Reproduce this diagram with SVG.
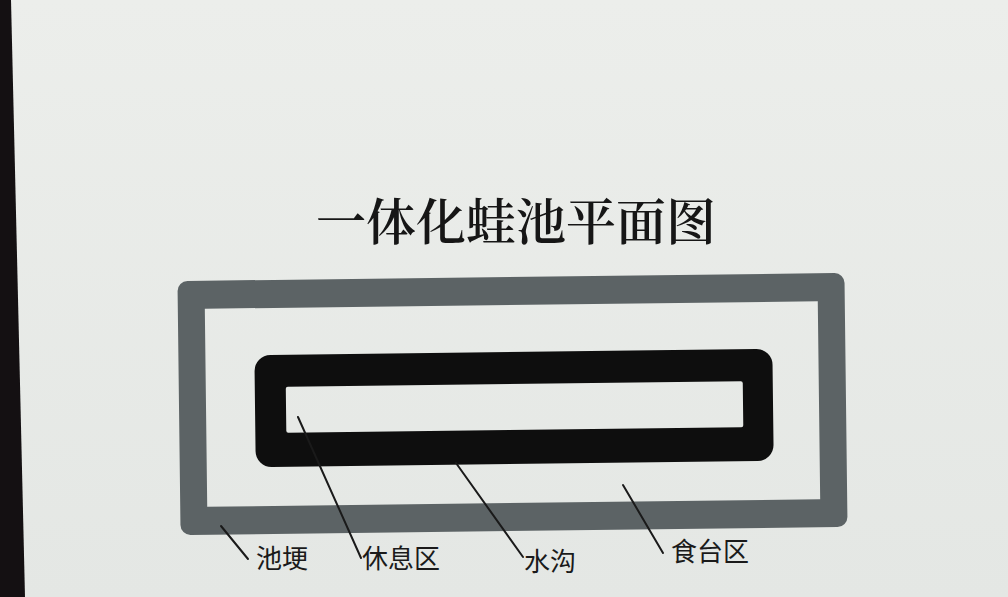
<svg xmlns="http://www.w3.org/2000/svg" width="1008" height="597" viewBox="0 0 1008 597">
  <defs>
    <linearGradient id="bg" x1="0" y1="0" x2="0" y2="1">
      <stop offset="0" stop-color="#eceeeb"/>
      <stop offset="1" stop-color="#e4e7e4"/>
    </linearGradient>
  </defs>
  <style>
    .title { font-family: "Noto Serif CJK SC", "Noto Sans CJK SC", "Noto Sans CJK JP", serif; font-size: 50px; font-weight: 600; fill: #161616; }
    .label { font-family: "Noto Sans CJK SC", "Noto Sans CJK JP", sans-serif; font-size: 26px; fill: #1a1a1a; }
    .leader { stroke: #1a1a1a; stroke-width: 2; fill: none; stroke-linecap: round; }
    .bank { fill: #5c6365; fill-rule: evenodd; }
    .ditch { fill: #0e0e0e; fill-rule: evenodd; }
  </style>
  <rect x="0" y="0" width="1008" height="597" fill="url(#bg)"/>
  <polygon points="0,0 11,0 25,597 0,597" fill="#141012"/>

  <text class="title" x="516" y="240" text-anchor="middle">一体化蛙池平面图</text>

  <g transform="rotate(-0.7 512 404)">
    <g id="pond-bank">
      <path class="bank" d="M189,277 H836 A10,10 0 0 1 846,287 V521 A10,10 0 0 1 836,531 H189 A10,10 0 0 1 179,521 V287 A10,10 0 0 1 189,277 Z M206,305 V503 H819 V305 Z"/>
    </g>
    <g id="feeding-area">
      <rect x="206" y="305" width="613" height="198" fill="none"/>
    </g>
    <g id="ditch">
      <path class="ditch" d="M271,352 H757 A16,16 0 0 1 773,368 V448 A16,16 0 0 1 757,464 H271 A16,16 0 0 1 255,448 V368 A16,16 0 0 1 271,352 Z M288,384 A2,2 0 0 0 286,386 V428 A2,2 0 0 0 288,430 H741 A2,2 0 0 0 743,428 V386 A2,2 0 0 0 741,384 Z"/>
    </g>
    <g id="rest-area">
      <rect x="286" y="384" width="457" height="46" fill="none"/>
    </g>
  </g>

  <g id="connectors">
    <line class="leader" x1="221" y1="526" x2="248" y2="559"/>
    <line class="leader" x1="298" y1="417" x2="361" y2="558"/>
    <line class="leader" x1="456" y1="463" x2="523" y2="557"/>
    <line class="leader" x1="623" y1="485" x2="663" y2="553"/>
  </g>

  <g id="label-bank"><text class="label" x="256" y="568">池埂</text></g>
  <g id="label-rest"><text class="label" x="362" y="568">休息区</text></g>
  <g id="label-ditch"><text class="label" x="524" y="571">水沟</text></g>
  <g id="label-feed"><text class="label" x="671" y="561">食台区</text></g>
</svg>
